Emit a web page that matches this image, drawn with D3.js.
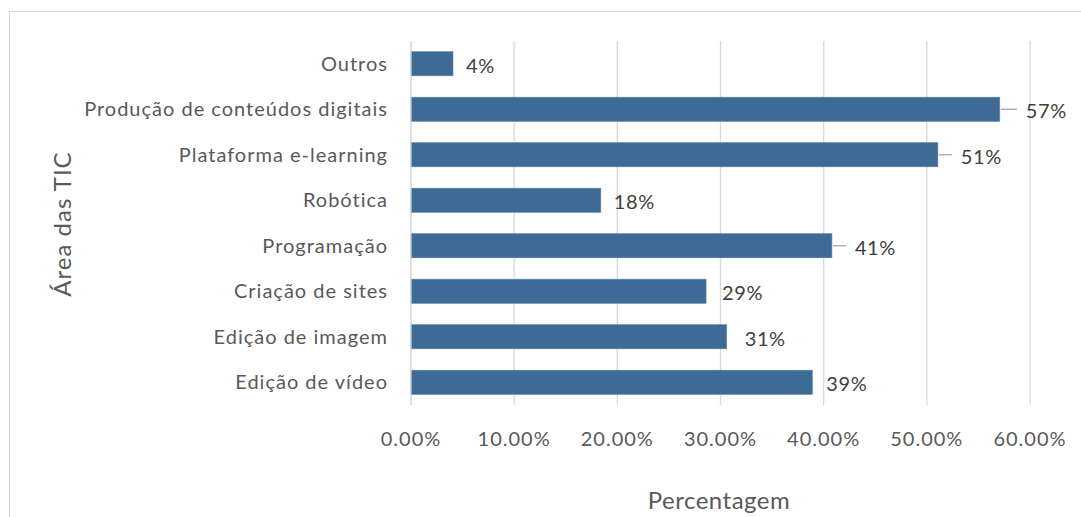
<!DOCTYPE html>
<html>
<head>
<meta charset="utf-8">
<script src="https://cdn.jsdelivr.net/npm/d3@7"></script>
<style>
  body { margin: 0; background: #fff; }
  svg { display: block; font-family: Lato, "Open Sans", sans-serif; }
</style>
</head>
<body>
<svg id="chart"></svg>
<script>
// data
const categories = ['Outros', 'Produção de conteúdos digitais', 'Plataforma e-learning', 'Robótica',
  'Programação', 'Criação de sites', 'Edição de imagem', 'Edição de vídeo'];
const values = [0.0407, 0.5707, 0.5107, 0.184, 0.408, 0.286, 0.306, 0.389];
const labels = ['4%', '57%', '51%', '18%', '41%', '29%', '31%', '39%'];
const ticks = [0, 0.1, 0.2, 0.3, 0.4, 0.5, 0.6];

// labels that were dragged away from their bar (gap in px), get a leader line
const labelGap = [13, 26, 23, 13, 23, 16, 18, 14];

const width = 1081, height = 517;
const plotLeft = 411, plotRight = 1030, plotTop = 41, plotBottom = 405;

const svg = d3.select('#chart').attr('width', width).attr('height', height);

svg.append('rect')
  .attr('x', 9.5).attr('y', 11.5)
  .attr('width', 1100).attr('height', 600)
  .attr('fill', 'none').attr('stroke', '#d9d9d9');

const x = d3.scaleLinear().domain([0, 0.6]).range([plotLeft, plotRight]);
const y = d3.scaleBand().domain(categories).range([plotTop, plotBottom]).paddingInner(0.47).paddingOuter(0.235);

// gridlines
svg.append('g').selectAll('line')
  .data(ticks.slice(1))
  .enter().append('line')
  .attr('x1', (d) => x(d)).attr('x2', (d) => x(d))
  .attr('y1', plotTop).attr('y2', plotBottom)
  .attr('stroke', '#d9d9d9').attr('stroke-width', 1.3);

// x tick labels
svg.append('g').selectAll('text')
  .data(ticks)
  .enter().append('text')
  .attr('x', (d) => x(d))
  .attr('y', 446)
  .attr('text-anchor', 'middle')
  .attr('fill', '#595959')
  .style('font-size', '20px')
  .style('letter-spacing', '1px')
  .text((d) => d3.format('.2%')(d));

// bars
svg.append('g').selectAll('rect')
  .data(values)
  .enter().append('rect')
  .attr('x', x(0))
  .attr('y', (d, i) => y(categories[i]))
  .attr('width', (d) => x(d) - x(0))
  .attr('height', y.bandwidth())
  .attr('fill', '#3e6b96')
  .attr('stroke', '#5b83a8').attr('stroke-width', 0.6);

// y axis line
svg.append('line')
  .attr('x1', plotLeft).attr('x2', plotLeft)
  .attr('y1', plotTop).attr('y2', plotBottom)
  .attr('stroke', '#d0d0d0').attr('stroke-width', 1.3);

// category labels
svg.append('g').selectAll('text')
  .data(categories)
  .enter().append('text')
  .attr('x', 388)
  .attr('y', (d) => y(d) + y.bandwidth() / 2)
  .attr('dy', '.35em')
  .attr('text-anchor', 'end')
  .attr('fill', '#595959')
  .style('font-size', '20px')
  .style('letter-spacing', '1px')
  .text((d) => d);

// leader lines
const leaders = svg.append('g');
values.forEach((v, i) => {
  if (labelGap[i] > 20) {
    const cy = y(categories[i]) + y.bandwidth() / 2;
    leaders.append('line')
      .attr('x1', x(v) + 1).attr('x2', x(v) + labelGap[i] - 9)
      .attr('y1', cy).attr('y2', cy)
      .attr('stroke', '#a6a6a6').attr('stroke-width', 1.3);
  }
});

// data labels
svg.append('g').selectAll('text')
  .data(values)
  .enter().append('text')
  .attr('x', (d, i) => x(d) + labelGap[i])
  .attr('y', (d, i) => y(categories[i]) + y.bandwidth() / 2 + 2)
  .attr('dy', '.35em')
  .attr('fill', '#404040')
  .style('font-size', '20px')
  .style('letter-spacing', '0.6px')
  .text((d, i) => labels[i]);

// axis titles
svg.append('text')
  .attr('x', 719).attr('y', 509)
  .attr('text-anchor', 'middle')
  .attr('fill', '#595959')
  .style('font-size', '24px')
  .style('letter-spacing', '0.5px')
  .text('Percentagem');

svg.append('text')
  .attr('transform', 'translate(71, 224) rotate(-90)')
  .attr('text-anchor', 'middle')
  .attr('fill', '#595959')
  .style('font-size', '24px')
  .style('letter-spacing', '1px')
  .text('Área das TIC');
</script>
</body>
</html>
